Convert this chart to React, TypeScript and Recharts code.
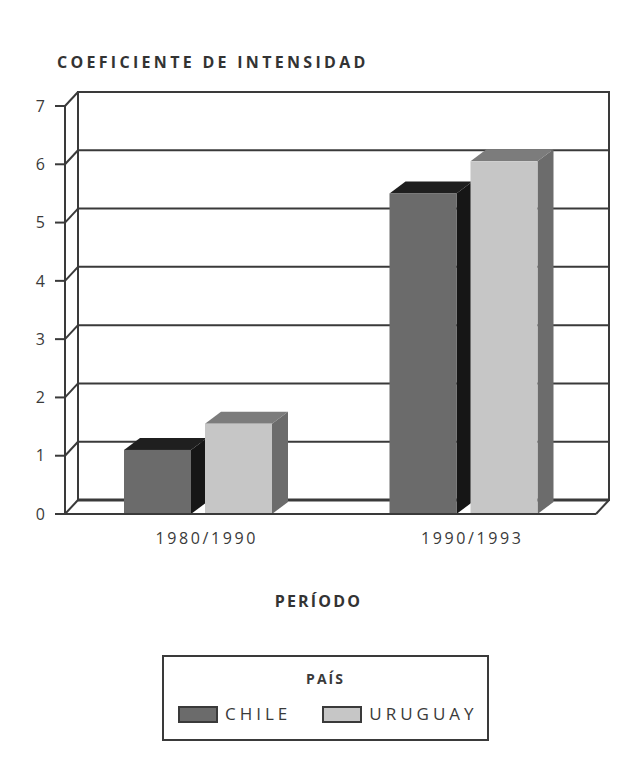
import { BarChart, Bar, XAxis, YAxis, CartesianGrid, ReferenceArea, Label } from 'recharts'

const periods = ['1980/1990', '1990/1993']
const countries = ['CHILE', 'URUGUAY']
const chileValues = [1.1, 5.5]
const uruguayValues = [1.55, 6.05]
const yTicks = [0, 1, 2, 3, 4, 5, 6, 7]

const data = periods.map((period, i) => ({
    period,
    CHILE: chileValues[i],
    URUGUAY: uruguayValues[i],
}))

// face colours of each 3D column
const palette: Record<string, { front: string; top: string; side: string }> = {
    CHILE: { front: '#6b6b6b', top: '#1f1f1f', side: '#161616' },
    URUGUAY: { front: '#c6c6c6', top: '#7c7c7c', side: '#6c6c6c' },
}

const FONT = '"Open Sans", "DejaVu Sans", sans-serif'
const INK = '#3a3a3a'
const TEXT = '#3a3a3a'
const WALL_DX = 13
const WALL_DY = 14
const BAR_DX = 16
const BAR_DY = 12
const TICK_SIZE = 10
const TICK_MARGIN = 10

function Column(props: any) {
    const { x, y, width, height, dataKey } = props
    const c = palette[dataKey]
    if (!c || height <= 0) return null
    const r = x + width
    const b = y + height
    return (
        <g>
            <polygon points={`${x},${y} ${x + BAR_DX},${y - BAR_DY} ${r + BAR_DX},${y - BAR_DY} ${r},${y}`} fill={c.top} />
            <polygon points={`${r},${y} ${r + BAR_DX},${y - BAR_DY} ${r + BAR_DX},${b - BAR_DY} ${r},${b}`} fill={c.side} />
            <rect x={x} y={y} width={width} height={height} fill={c.front} />
        </g>
    )
}

// back wall and floor of the box, set back from the front plane
function BackWall(props: any) {
    const { x, y, width, height } = props
    const r = x + width
    const b = y + height
    return (
        <g fill="none" stroke={INK} strokeWidth={2}>
            <rect x={x + WALL_DX} y={y - WALL_DY} width={width} height={height} />
            <line x1={r} y1={b} x2={r + WALL_DX} y2={b - WALL_DY} />
            <line x1={x + WALL_DX} y1={b - WALL_DY} x2={r + WALL_DX} y2={b - WALL_DY} strokeWidth={3} />
        </g>
    )
}

function GridLine(props: any) {
    const { x1, y1, x2, y2 } = props
    return (
        <line
            key={props.key}
            x1={x1 + WALL_DX}
            y1={y1 - WALL_DY}
            x2={x2 + WALL_DX}
            y2={y2 - WALL_DY}
            stroke={INK}
            strokeWidth={2}
        />
    )
}

function YTick(props: any) {
    const { x, y, payload } = props
    const axisX = x + TICK_SIZE + TICK_MARGIN
    return (
        <g>
            <line x1={axisX - TICK_SIZE} y1={y} x2={axisX} y2={y} stroke={INK} strokeWidth={2} />
            <line x1={axisX} y1={y} x2={axisX + WALL_DX} y2={y - WALL_DY} stroke={INK} strokeWidth={2} />
            <text x={x} y={y} dy="0.36em" textAnchor="end" fontSize={16} fill={TEXT} fontFamily={FONT}>
                {payload.value}
            </text>
        </g>
    )
}

function XTick(props: any) {
    const { x, y, payload } = props
    return (
        <text
            x={x + 9}
            y={y}
            dy="0.9em"
            textAnchor="middle"
            fontSize={16}
            fill={TEXT}
            fontFamily={FONT}
            letterSpacing={2.6}
        >
            {payload.value}
        </text>
    )
}

export default function App() {
    return (
        <div style={{ position: 'absolute', left: 0, top: 0, width: 635, height: 772, background: '#fff', fontFamily: FONT }}>
            <div
                style={{
                    position: 'absolute',
                    left: 57,
                    top: 52,
                    fontSize: 16,
                    fontWeight: 700,
                    letterSpacing: 3.3,
                    color: '#333',
                    lineHeight: '20px',
                    whiteSpace: 'nowrap',
                }}
            >
                COEFICIENTE DE INTENSIDAD
            </div>
            <BarChart
                width={635}
                height={640}
                data={data}
                margin={{ top: 106, right: 39, bottom: 96, left: 35 }}
                barGap={14}
                barSize={67}
            >
                <CartesianGrid horizontal={GridLine} vertical={false} />
                <ReferenceArea y1={0} y2={7} ifOverflow="visible" shape={BackWall} />
                <XAxis
                    dataKey="period"
                    height={30}
                    axisLine={{ stroke: INK, strokeWidth: 2 }}
                    tickLine={false}
                    tickMargin={10}
                    tick={XTick}
                >
                    <Label
                        value="PERÍODO"
                        position="bottom"
                        offset={52}
                        dx={-12}
                        fontSize={16}
                        fontWeight={700}
                        fill="#333"
                        fontFamily={FONT}
                        letterSpacing={2.2}
                    />
                </XAxis>
                <YAxis
                    width={30}
                    domain={[0, 7]}
                    ticks={yTicks}
                    interval={0}
                    axisLine={{ stroke: INK, strokeWidth: 2 }}
                    tickLine={false}
                    tickSize={TICK_SIZE}
                    tickMargin={TICK_MARGIN}
                    tick={YTick}
                />
                {countries.map((c) => (
                    <Bar key={c} dataKey={c} fill={palette[c].front} shape={Column} isAnimationActive={false} />
                ))}
            </BarChart>
            <div
                style={{
                    position: 'absolute',
                    left: 162,
                    top: 655,
                    width: 327,
                    height: 86,
                    boxSizing: 'border-box',
                    border: `2px solid ${INK}`,
                    background: '#fff',
                    color: TEXT,
                }}
            >
                <div
                    style={{
                        position: 'absolute',
                        top: 12,
                        left: 0,
                        right: 0,
                        textAlign: 'center',
                        fontSize: 14,
                        fontWeight: 700,
                        letterSpacing: 2,
                        lineHeight: '20px',
                    }}
                >
                    PAÍS
                </div>
                <div style={{ position: 'absolute', top: 47, left: 14, display: 'flex', alignItems: 'center' }}>
                    {countries.map((c) => (
                        <div key={c} style={{ display: 'flex', alignItems: 'center', marginRight: 31 }}>
                            <span
                                style={{
                                    display: 'inline-block',
                                    width: 40,
                                    height: 17,
                                    boxSizing: 'border-box',
                                    border: `2px solid ${INK}`,
                                    background: palette[c].front,
                                    marginRight: 7,
                                }}
                            />
                            <span style={{ fontSize: 17, letterSpacing: 4, lineHeight: '20px' }}>{c}</span>
                        </div>
                    ))}
                </div>
            </div>
        </div>
    )
}
